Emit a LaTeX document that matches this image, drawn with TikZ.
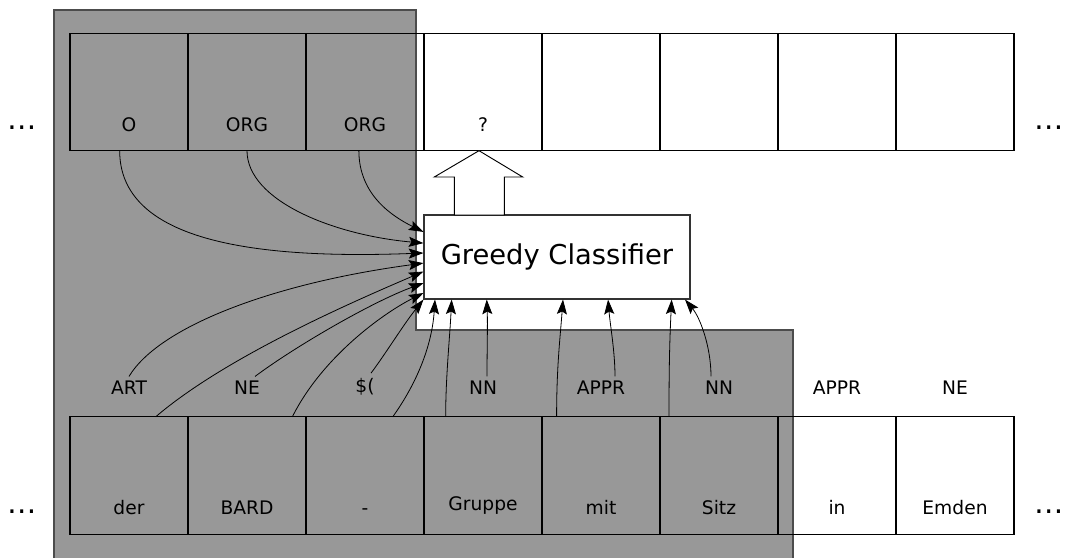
\documentclass[tikz,border=0pt]{standalone}
\usepackage{fontspec}
\setmainfont{DejaVu Sans}
\usetikzlibrary{arrows.meta,positioning}
\definecolor{window}{HTML}{989898}
\tikzset{
  cell/.style={draw, line width=1pt, minimum width=88.5pt, minimum height=88pt, inner sep=0pt, outer sep=0pt},
  word/.style={font=\fontsize{14}{17}\selectfont},
  ellip/.style={font=\fontsize{22}{26}\selectfont, anchor=base, inner sep=0pt},
  feat/.style={-{Stealth[length=11pt,width=7.5pt,inset=2pt]}, line width=0.6pt},
}

\begin{document}
\begin{tikzpicture}[x=0.75pt,y=0.75pt]
\useasboundingbox (0,0) rectangle (1067,557);

% window of the classifier
\draw[fill=window, draw=black!70, line width=0.8pt] (54,547) -- (416,547) -- (416,227) -- (793,227) -- (793,-5) -- (54,-5) -- cycle;

% rows of cells
\foreach \i in {1,...,8}
{
  \node[cell] (tag\i) at ({11+118*\i},465) {};
}
\foreach \tag [count=\i] in {O,ORG,ORG,?}
{
  \node[word, above=11pt of tag\i.south] (tagw\i) {\tag};
}
\foreach \tok/\pos [count=\i] in {der/ART,BARD/NE,-/\$(,Gruppe/NN,mit/APPR,Sitz/NN,in/APPR,Emden/NE}
{
  \node[cell] (tok\i) at ({11+118*\i},81.5) {};
  \node[word, above=11pt of tok\i.south] (tokw\i) {\tok};
  \node[word, above=13pt of tok\i.north] (pos\i) {\pos};
}

\node[ellip] (dl1) at (22,427) {…};
\node[ellip] (dr1) at (1049,427) {…};
\node[ellip] (dl2) at (22,44) {…};
\node[ellip] (dr2) at (1049,44) {…};

\node[draw=black!80, fill=white, line width=0.8pt, minimum width=199.5pt, minimum height=63pt, font=\fontsize{20.5}{24}\selectfont] (clf) at (557,300) {Greedy Classifier};

% output arrow
\draw[fill=white, line width=0.7pt] (479,406.3) -- (522.7,380) -- (504.3,380) -- (504.3,342) -- (454.3,342) -- (454.3,380) -- (434.3,380) -- cycle;

% previous tags
\draw[feat] ([xshift=-7pt]tag1.south) .. controls +(0,-89) and +(-174,-6.7) .. ([yshift=3pt]clf.west);
\draw[feat] (tag2.south) .. controls +(0,-50) and +(-90,8) .. ([yshift=10.4pt]clf.west);
\draw[feat] ([xshift=-4.6pt]tag3.south) .. controls +(0,-45) and +(-30,15) .. ([yshift=18.8pt]clf.west);

% tokens and pos tags
\draw[feat] (pos1.north) .. controls +(30,50) and +(-150,-20) .. ([yshift=-4.6pt]clf.west);
\draw[feat] ([xshift=20pt]tok1.north) .. controls +(70,60) and +(-70,-30) .. ([yshift=-10.9pt]clf.west);
\draw[feat] ([xshift=6pt]pos2.north) .. controls +(40,30) and +(-50,-18) .. ([yshift=-19.6pt]clf.west);
\draw[feat] ([xshift=34pt]tok2.north) .. controls +(30,60) and +(-40,-20) .. ([yshift=-27pt]clf.west);
\draw[feat] ([xshift=4.5pt]pos3.north) .. controls +(15,20) and +(-20,-25) .. (clf.south west);
\draw[feat] ([xshift=20.8pt]tok3.north) .. controls +(25,35) and +(-3,-45) .. ([xshift=-91.5pt]clf.south);
\draw[feat] ([xshift=-28pt]tok4.north) .. controls +(0,40) and +(-2,-40) .. ([xshift=-79pt]clf.south);
\draw[feat] ([xshift=3pt]pos4.north) .. controls +(0,25) and +(1,-25) .. ([xshift=-52.7pt]clf.south);
\draw[feat] ([xshift=-33.3pt]tok5.north) .. controls +(0,50) and +(-3,-40) .. ([xshift=4.5pt]clf.south);
\draw[feat] ([xshift=10.5pt]pos5.north) .. controls +(0,25) and +(2,-25) .. ([xshift=38.3pt]clf.south);
\draw[feat] ([xshift=-37.5pt]tok6.north) .. controls +(0,50) and +(-2,-40) .. ([xshift=86pt]clf.south);
\draw[feat] ([xshift=-6pt]pos6.north) .. controls +(0,30) and +(15,-18) .. ([xshift=96pt]clf.south);
\end{tikzpicture}
\end{document}
